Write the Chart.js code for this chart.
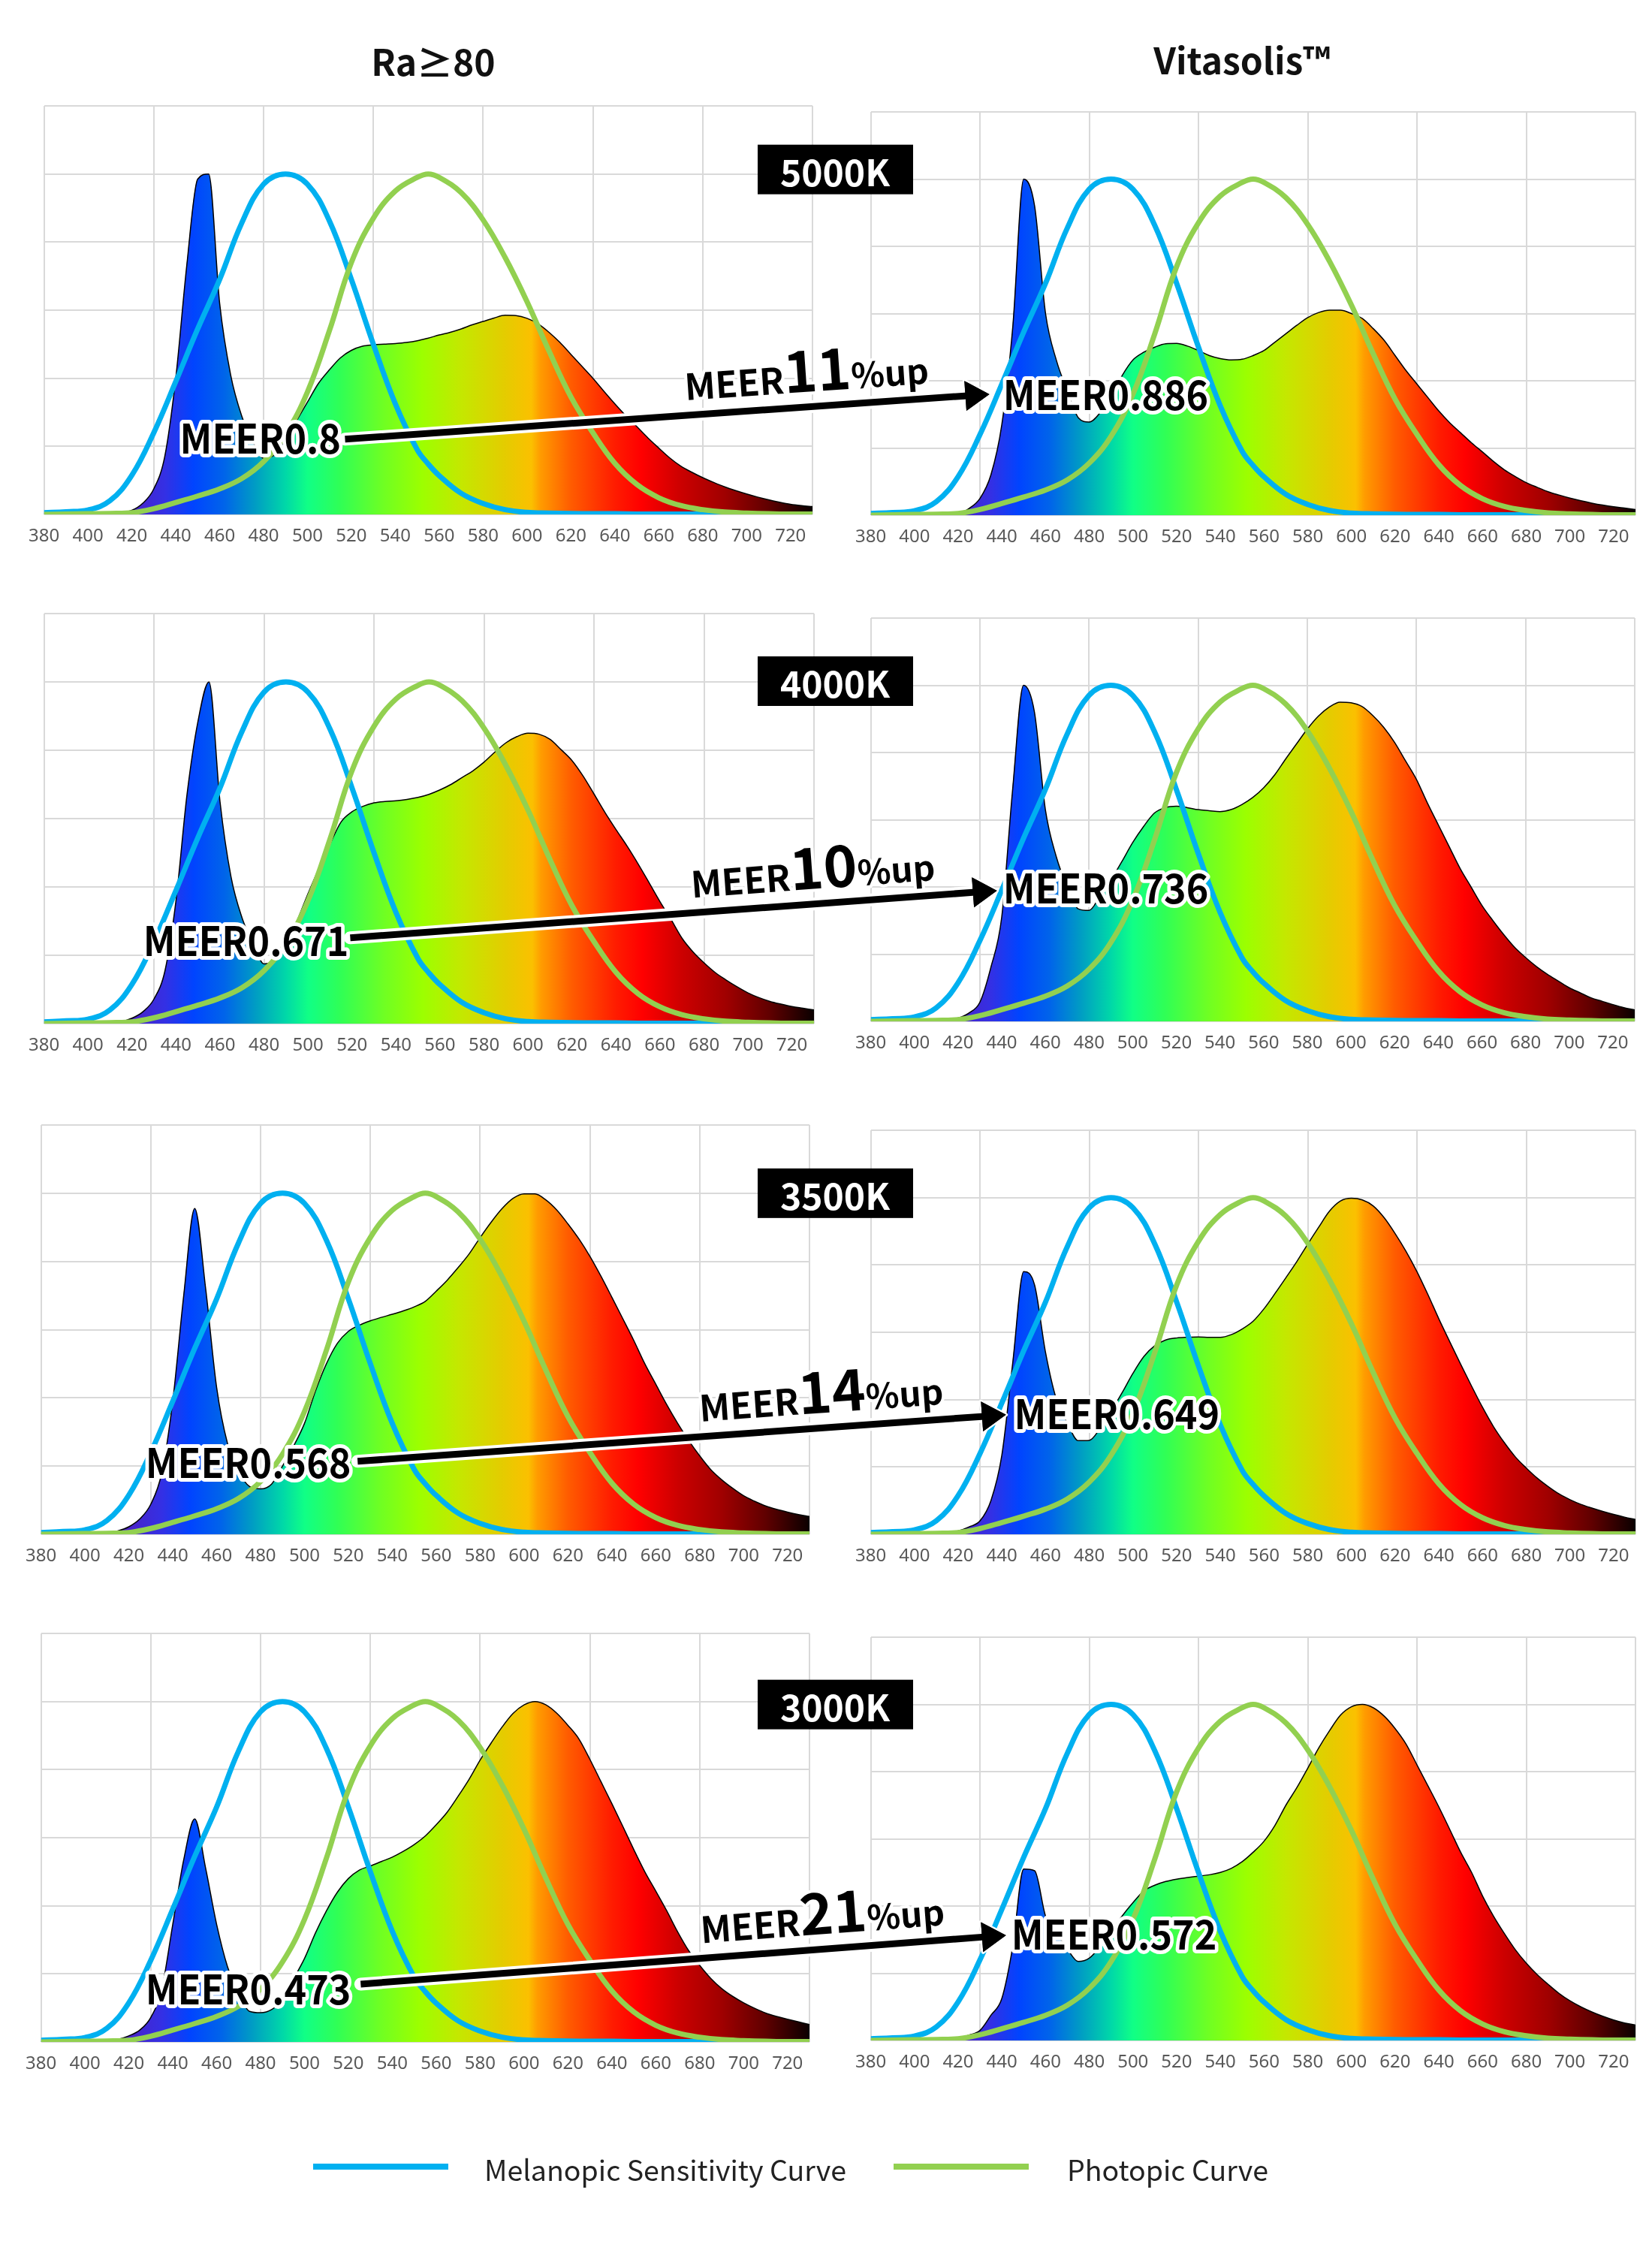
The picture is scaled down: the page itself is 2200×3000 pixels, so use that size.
<!DOCTYPE html>
<html lang="en">
<head>
<meta charset="utf-8">
<title>MEER comparison: Ra≥80 vs Vitasolis™</title>
<script src="https://cdn.jsdelivr.net/npm/chart.js@4.4.1/dist/chart.umd.min.js"></script>
<style>
html,body{margin:0;padding:0;background:#fff;}
#page{position:relative;width:2200px;height:3000px;overflow:hidden;background:#fff;}
#page canvas{position:absolute;}
#overlay{position:absolute;left:0;top:0;z-index:10;}
</style>
</head>
<body>
<div id="page"><svg id="overlay" width="2200" height="3000" xmlns="http://www.w3.org/2000/svg"></svg></div>
<script>
// ---------------- DATA ----------------
const wavelengths = [380,385,390,395,400,405,410,415,420,425,430,435,440,445,450,455,460,465,470,475,
  480,485,490,495,500,505,510,515,520,525,530,535,540,545,550,555,560,565,570,575,
  580,585,590,595,600,605,610,615,620,625,630,635,640,645,650,655,660,665,670,675,
  680,685,690,695,700,705,710,715,720,725,730];
const curveWavelengths = [380,390,400,410,420,430,440,450,460,470,480,490,500,510,520,530,540,550,555,560,570,
  580,590,600,610,620,630,640,650,660,670,680,690,700,710,720,730];
const xTickLabels = [380,400,420,440,460,480,500,520,540,560,580,600,620,640,660,680,700,720];

const melanopic = [0.005,0.008,0.013,0.04,0.115,0.24,0.39,0.545,0.69,0.855,0.97,1.0,0.97,0.862,0.69,0.5,0.325,0.19,0.148,0.114,0.062,
  0.032,0.014,0.006,0.004,0.003,0.002,0.002,0.001,0.001,0.001,0.001,0,0,0,0,0];
const photopic = [0,0.001,0.002,0.003,0.005,0.017,0.035,0.054,0.075,0.105,0.155,0.235,0.36,0.54,0.74,0.87,0.95,0.99,1.0,0.99,0.945,
  0.865,0.755,0.625,0.48,0.345,0.24,0.15,0.088,0.049,0.026,0.014,0.007,0.004,0.002,0.001,0.001];

const spdRa80_5000K = [0,0,0,0,0.001,0.001,0.002,0.005,0.012,0.033,0.075,0.17,0.40,0.73,0.985,1.0,0.62,0.41,0.29,0.215,
  0.165,0.175,0.22,0.275,0.33,0.385,0.425,0.46,0.482,0.494,0.498,0.5,0.502,0.505,0.51,0.518,0.527,0.535,0.545,0.557,
  0.567,0.577,0.585,0.584,0.576,0.56,0.535,0.505,0.47,0.435,0.4,0.362,0.325,0.29,0.258,0.225,0.195,0.166,0.142,0.124,
  0.108,0.094,0.081,0.07,0.06,0.051,0.043,0.036,0.03,0.026,0.023];
const spdVita_5000K = [0,0,0,0,0.001,0.001,0.002,0.003,0.005,0.02,0.05,0.12,0.27,0.56,1.0,0.92,0.6,0.46,0.37,0.29,
  0.277,0.305,0.355,0.415,0.462,0.485,0.5,0.51,0.511,0.503,0.49,0.475,0.466,0.462,0.464,0.475,0.49,0.515,0.54,0.565,
  0.588,0.603,0.61,0.61,0.6,0.585,0.555,0.52,0.475,0.43,0.39,0.35,0.31,0.275,0.245,0.215,0.188,0.16,0.135,0.115,
  0.097,0.083,0.07,0.06,0.051,0.043,0.036,0.03,0.025,0.021,0.017];
const spdRa80_4000K = [0,0,0,0,0.001,0.002,0.003,0.006,0.016,0.035,0.072,0.155,0.36,0.67,0.885,1.0,0.65,0.43,0.31,0.235,
  0.175,0.185,0.225,0.3,0.38,0.455,0.525,0.59,0.62,0.636,0.646,0.65,0.652,0.656,0.662,0.671,0.684,0.7,0.72,0.74,
  0.765,0.795,0.822,0.84,0.85,0.847,0.832,0.802,0.77,0.725,0.672,0.618,0.568,0.52,0.468,0.413,0.357,0.305,0.25,0.21,
  0.178,0.15,0.128,0.108,0.09,0.076,0.065,0.057,0.05,0.045,0.04];
const spdVita_4000K = [0,0,0,0,0.001,0.002,0.003,0.005,0.01,0.025,0.057,0.16,0.31,0.69,1.0,0.92,0.63,0.49,0.4,0.335,
  0.33,0.372,0.42,0.475,0.532,0.58,0.62,0.636,0.64,0.636,0.63,0.627,0.624,0.63,0.645,0.666,0.695,0.733,0.78,0.825,
  0.87,0.908,0.935,0.95,0.948,0.937,0.91,0.875,0.83,0.775,0.72,0.65,0.585,0.52,0.455,0.4,0.345,0.3,0.258,0.22,
  0.19,0.163,0.14,0.12,0.1,0.085,0.07,0.06,0.05,0.041,0.034];
const spdRa80_3500K = [0,0,0,0,0.001,0.002,0.004,0.01,0.022,0.045,0.088,0.18,0.39,0.70,0.955,0.72,0.43,0.265,0.185,0.14,
  0.133,0.147,0.2,0.258,0.325,0.42,0.5,0.56,0.595,0.613,0.626,0.636,0.645,0.655,0.667,0.683,0.713,0.745,0.782,0.822,
  0.87,0.915,0.955,0.985,0.998,0.998,0.98,0.95,0.91,0.866,0.815,0.757,0.695,0.632,0.568,0.5,0.44,0.38,0.325,0.275,
  0.23,0.19,0.16,0.135,0.113,0.097,0.083,0.073,0.065,0.058,0.052];
const spdVita_3500K = [0,0,0,0,0.001,0.002,0.003,0.005,0.01,0.022,0.04,0.1,0.235,0.51,0.78,0.74,0.54,0.4,0.33,0.278,
  0.279,0.315,0.365,0.42,0.478,0.528,0.56,0.577,0.583,0.585,0.586,0.585,0.585,0.593,0.61,0.633,0.67,0.715,0.762,0.81,
  0.862,0.912,0.96,0.99,0.998,0.993,0.975,0.94,0.893,0.84,0.78,0.712,0.64,0.572,0.505,0.44,0.377,0.32,0.272,0.23,
  0.197,0.167,0.142,0.12,0.103,0.089,0.078,0.068,0.059,0.051,0.044];
const spdRa80_3000K = [0,0,0,0,0.001,0.002,0.004,0.008,0.018,0.035,0.072,0.155,0.345,0.535,0.655,0.51,0.345,0.22,0.14,0.09,
  0.086,0.095,0.125,0.185,0.245,0.32,0.385,0.44,0.48,0.505,0.517,0.53,0.543,0.56,0.58,0.605,0.638,0.675,0.722,0.772,
  0.828,0.878,0.925,0.965,0.99,1.0,0.99,0.965,0.93,0.89,0.83,0.765,0.7,0.633,0.565,0.5,0.443,0.385,0.323,0.268,
  0.225,0.187,0.157,0.134,0.115,0.099,0.085,0.075,0.067,0.059,0.051];
const spdVita_3000K = [0,0,0,0,0.001,0.001,0.002,0.004,0.008,0.016,0.03,0.075,0.125,0.28,0.51,0.505,0.37,0.32,0.272,0.235,
  0.245,0.28,0.325,0.37,0.41,0.445,0.462,0.473,0.48,0.485,0.489,0.493,0.5,0.512,0.532,0.56,0.593,0.64,0.7,0.752,
  0.81,0.87,0.922,0.968,0.993,1.0,0.99,0.965,0.928,0.882,0.82,0.758,0.695,0.628,0.56,0.5,0.43,0.37,0.318,0.27,
  0.23,0.196,0.167,0.14,0.118,0.1,0.085,0.072,0.061,0.052,0.046];

const panelTitles = ['Ra≥80', 'Vitasolis™'];
const cctLabels = ['5000K', '4000K', '3500K', '3000K'];
const meerRa80 = [0.8, 0.671, 0.568, 0.473];
const meerVitasolis = [0.886, 0.736, 0.649, 0.572];
const meerUpPercent = [11, 10, 14, 21];
const legendLabels = ['Melanopic Sensitivity Curve', 'Photopic Curve'];

const spdRa80 = [spdRa80_5000K, spdRa80_4000K, spdRa80_3500K, spdRa80_3000K];
const spdVita = [spdVita_5000K, spdVita_4000K, spdVita_3500K, spdVita_3000K];

// ---------------- STYLE / LAYOUT ----------------
const MEL_COLOR = '#00b0f0';
const PHO_COLOR = '#92d050';
const GRID = '#d9d9d9';
const FONT = "'Noto Sans CJK JP','Noto Sans',sans-serif";
const TICK_FONT = "'Liberation Sans Narrow','Noto Sans',sans-serif";
const spectrumStops = [
  [380,'#5a1fb0'],[420,'#4a22c8'],[435,'#3430e4'],[448,'#0044ff'],[462,'#0064ea'],[476,'#009cc4'],
  [490,'#00d8a8'],[500,'#10ff86'],[515,'#30ff55'],[535,'#70ff22'],[552,'#9cff00'],[570,'#c4e800'],
  [590,'#e4cc00'],[602,'#fbc000'],[606,'#ff9c00'],[620,'#ff5c00'],[640,'#ff1c00'],[652,'#ff0000'],
  [670,'#cc0000'],[690,'#a00000'],[710,'#600000'],[730,'#0a0000']
];
// plot-area rectangles on the page: [left, right, top, bottom]
const panelRects = [
  [[53,1082,141,685],[1154,2178,149,686]],
  [[53,1084,817,1363],[1154,2177,823,1360]],
  [[49,1078,1498,2043],[1154,2178,1505,2043]],
  [[49,1078,2175,2719],[1154,2178,2180,2717]]
];
// annotation anchors, in each panel's own data units [nm, value]
const annoAnchors = [
  {leftText:[441.9,0.229], from:[517.1,0.221], to:[434.3,0.36], rightText:[440.5,0.364]},
  {leftText:[425.1,0.248], from:[519.2,0.251], to:[437.8,0.389], rightText:[440.6,0.402]},
  {leftText:[427.6,0.216], from:[524.2,0.214], to:[441.9,0.355], rightText:[445.6,0.364]},
  {leftText:[427.6,0.161], from:[525.6,0.170], to:[441.9,0.313], rightText:[444.3,0.322]}
];
const badgeNudge = [-6, -1, 0, 4];

const page = document.getElementById('page');
const svg = document.getElementById('overlay');
const SVGNS = 'http://www.w3.org/2000/svg';

function svgEl(tag, attrs, text, parent) {
  const e = document.createElementNS(SVGNS, tag);
  for (const k in attrs) e.setAttribute(k, attrs[k]);
  if (text != null) e.textContent = text;
  (parent || svg).appendChild(e);
  return e;
}

function spectrumGradient(context) {
  const chart = context.chart;
  const area = chart.chartArea;
  if (!area) return 'rgba(0,0,0,0)';
  const xs = chart.scales.x;
  const x0 = xs.getPixelForValue(380), x1 = xs.getPixelForValue(730);
  const g = chart.ctx.createLinearGradient(x0, 0, x1, 0);
  spectrumStops.forEach(([nm, col]) => g.addColorStop((nm - 380) / 350, col));
  return g;
}

function buildPanel(rect, spectrum) {
  const [x0, x1, y0, y1] = rect;
  const padL = 30, padR = 30, padT = 10, axisH = 52;
  const w = (x1 - x0) + padL + padR, h = (y1 - y0) + padT + axisH;
  const c = document.createElement('canvas');
  c.width = w; c.height = h;
  c.style.left = (x0 - padL) + 'px'; c.style.top = (y0 - padT) + 'px';
  c.style.width = w + 'px'; c.style.height = h + 'px';
  page.appendChild(c);
  const chart = new Chart(c, {
    type: 'line',
    data: {
      datasets: [
        { label: legendLabels[1], data: curveWavelengths.map((x, i) => ({x, y: photopic[i]})),
          borderColor: PHO_COLOR, borderWidth: 7, pointRadius: 0, fill: false,
          tension: 0.4, order: 1 },
        { label: legendLabels[0], data: curveWavelengths.map((x, i) => ({x, y: melanopic[i]})),
          borderColor: MEL_COLOR, borderWidth: 7, pointRadius: 0, fill: false,
          tension: 0.4, order: 2 },
        { label: 'Spectrum', data: wavelengths.map((x, i) => ({x, y: spectrum[i]})),
          borderColor: '#000', borderWidth: 1.5, pointRadius: 0, fill: 'origin',
          backgroundColor: spectrumGradient, cubicInterpolationMode: 'monotone', order: 3 }
      ]
    },
    options: {
      responsive: false, animation: false, devicePixelRatio: 1,
      layout: { padding: { left: padL, right: padR, top: padT, bottom: 0 } },
      plugins: { legend: { display: false }, tooltip: { enabled: false } },
      scales: {
        x: {
          type: 'linear', min: 380, max: 730,
          afterFit: s => { s.height = axisH; },
          border: { display: false },
          grid: { color: ctx => ((Math.round(ctx.tick.value) - 380) % 50 === 0 ? GRID : 'rgba(0,0,0,0)'),
                  lineWidth: 2, drawTicks: false },
          ticks: { stepSize: 10, autoSkip: false, maxRotation: 0, minRotation: 0, padding: 15,
                   color: '#595959', font: { family: TICK_FONT, size: 24 },
                   callback: v => (xTickLabels.includes(Math.round(v)) ? String(Math.round(v)) : '') }
        },
        y: {
          min: 0, max: 1.2,
          afterFit: s => { s.width = 0; },
          border: { display: false },
          grid: { color: GRID, lineWidth: 2, drawTicks: false },
          ticks: { display: false, stepSize: 0.2 }
        }
      }
    }
  });
  return { chart, left: x0 - padL, top: y0 - padT };
}

function toPage(panel, nm, v) {
  return [panel.left + panel.chart.scales.x.getPixelForValue(nm),
          panel.top + panel.chart.scales.y.getPixelForValue(v)];
}

function outlinedText(x, y, str, size) {
  return svgEl('text', { x: 0, y: 0, transform: `translate(${x},${y}) scale(0.93,1)`,
    'font-family': FONT, 'font-weight': 700, 'font-size': size,
    fill: '#000', stroke: '#fff', 'stroke-width': 10, 'stroke-linejoin': 'round',
    'paint-order': 'stroke', 'dominant-baseline': 'central' }, str);
}

function drawArrow(p1, p2) {
  const dx = p2[0] - p1[0], dy = p2[1] - p1[1];
  const L = Math.hypot(dx, dy), ux = dx / L, uy = dy / L;
  const headLen = 32, headHalf = 20;
  const bx = p2[0] - ux * headLen, by = p2[1] - uy * headLen;
  const pts = `${p2[0]},${p2[1]} ${bx - uy * headHalf},${by + ux * headHalf} ${bx + uy * headHalf},${by - ux * headHalf}`;
  svgEl('line', { x1: p1[0], y1: p1[1], x2: bx, y2: by, stroke: '#fff', 'stroke-width': 17, 'stroke-linecap': 'round' });
  svgEl('polygon', { points: pts, fill: '#000', stroke: '#fff', 'stroke-width': 5, 'stroke-linejoin': 'round', 'paint-order': 'stroke' });
  svgEl('polygon', { points: pts, fill: '#000' });
  svgEl('line', { x1: p1[0], y1: p1[1], x2: bx + ux * 3, y2: by + uy * 3, stroke: '#000', 'stroke-width': 9, 'stroke-linecap': 'butt' });
  return { ux, uy, L, angle: Math.atan2(dy, dx) * 180 / Math.PI };
}

// ---------------- BUILD ----------------
svgEl('text', { x: 577, y: 80, 'font-family': FONT, 'font-weight': 700, 'font-size': 48, fill: '#111',
  'text-anchor': 'middle', 'dominant-baseline': 'central' }, panelTitles[0]);
svgEl('text', { x: 1654, y: 78, 'font-family': FONT, 'font-weight': 700, 'font-size': 48, fill: '#111',
  'text-anchor': 'middle', 'dominant-baseline': 'central' }, panelTitles[1]);

for (let r = 0; r < 4; r++) {
  const L = buildPanel(panelRects[r][0], spdRa80[r]);
  const R = buildPanel(panelRects[r][1], spdVita[r]);
  const a = annoAnchors[r];

  // CCT badge, centred on the 1.0 line of the left panel
  const by = toPage(L, 380, 1.0)[1] + badgeNudge[r];
  svgEl('rect', { x: 1009, y: by - 33, width: 207, height: 66, fill: '#000' });
  svgEl('text', { x: 1112, y: by + 1, 'font-family': FONT, 'font-weight': 700, 'font-size': 48, fill: '#fff',
    'text-anchor': 'middle', 'dominant-baseline': 'central' }, cctLabels[r]);

  // arrow
  const p1 = toPage(L, a.from[0], a.from[1]);
  const p2 = toPage(R, a.to[0], a.to[1]);
  const ar = drawArrow(p1, p2);

  // "MEERxx%up" along the arrow
  const t = 0.53, off = 20;
  const ax = p1[0] + (p2[0] - p1[0]) * t + ar.uy * off;
  const ay = p1[1] + (p2[1] - p1[1]) * t - ar.ux * off;
  const pt = svgEl('text', { x: 0, y: 0, transform: `translate(${ax},${ay}) rotate(${ar.angle})`,
    'font-family': FONT, 'font-weight': 700, fill: '#000', stroke: '#fff', 'stroke-width': 8,
    'stroke-linejoin': 'round', 'paint-order': 'stroke' });
  svgEl('tspan', { 'font-size': 48 }, 'MEER', pt);
  svgEl('tspan', { 'font-size': 76 }, String(meerUpPercent[r]), pt);
  svgEl('tspan', { 'font-size': 46 }, '%up', pt);

  // value labels
  const lp = toPage(L, a.leftText[0], a.leftText[1]);
  outlinedText(lp[0], lp[1], 'MEER' + meerRa80[r], 54);
  const rp = toPage(R, a.rightText[0], a.rightText[1]);
  outlinedText(rp[0], rp[1], 'MEER' + meerVitasolis[r], 54);
}

// legend
svgEl('rect', { x: 417, y: 2881, width: 180, height: 8, fill: MEL_COLOR });
svgEl('text', { x: 645, y: 2887, 'font-family': FONT, 'font-weight': 400, 'font-size': 37.5, fill: '#222',
  'dominant-baseline': 'central' }, legendLabels[0]);
svgEl('rect', { x: 1190, y: 2881, width: 180, height: 8, fill: PHO_COLOR });
svgEl('text', { x: 1421, y: 2887, 'font-family': FONT, 'font-weight': 400, 'font-size': 37.5, fill: '#222',
  'dominant-baseline': 'central' }, legendLabels[1]);
</script>
</body>
</html>
